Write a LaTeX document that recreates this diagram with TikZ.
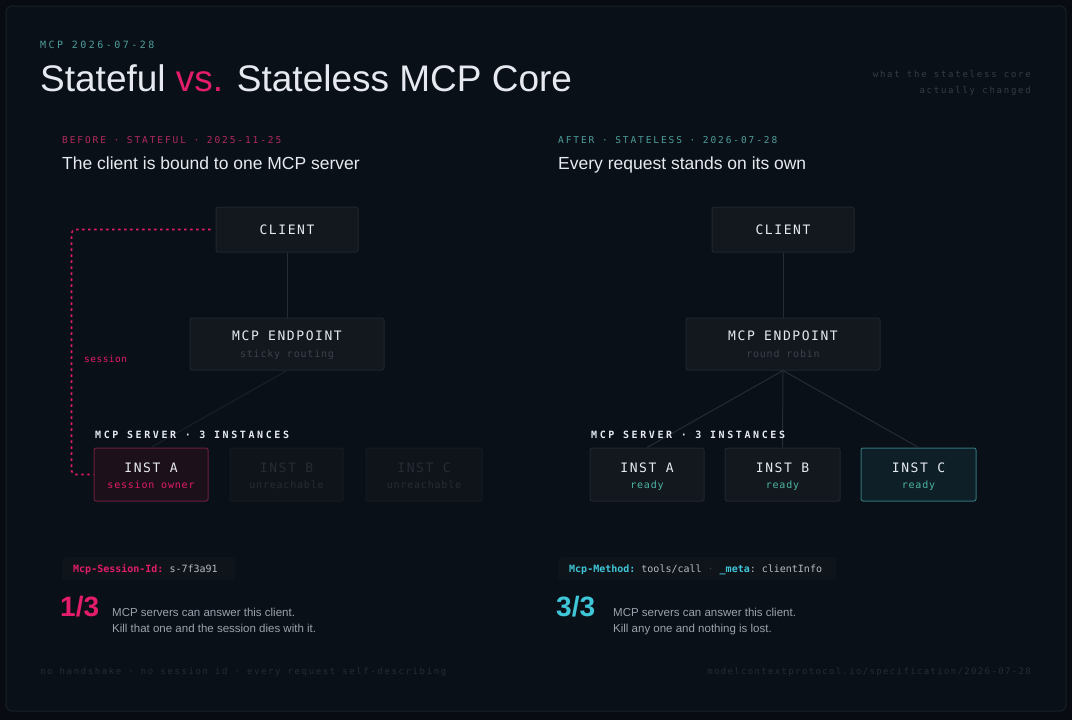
\documentclass[tikz,border=0pt]{standalone}
\usepackage{fontspec}
\setmainfont{Liberation Sans}
\newfontfamily\monofam{DejaVu Sans Mono}
\newfontfamily\dispfam{Liberation Sans}
\newcommand\mfont[2]{\monofam\addfontfeatures{LetterSpace=#2}\fontsize{#1}{#1}\selectfont}
\newcommand\sfont[1]{\dispfam\fontsize{#1}{#1}\selectfont}
\definecolor{outer}{HTML}{080C12}
\definecolor{bg}{HTML}{0A1017}
\definecolor{frame}{HTML}{182029}
\definecolor{card}{HTML}{13181F}
\definecolor{cardline}{HTML}{20262E}
\definecolor{hot}{HTML}{E31C6B}
\definecolor{hotdim}{HTML}{B02A5E}
\definecolor{teal}{HTML}{4E9D9B}
\definecolor{cyan}{HTML}{3FC6D8}
\definecolor{ready}{HTML}{4DB5A3}
\definecolor{ink}{HTML}{E6EAF0}
\definecolor{body}{HTML}{9AA3AD}
\definecolor{code}{HTML}{B4BBC4}
\definecolor{sub}{HTML}{3A424C}
\definecolor{ghost}{HTML}{262C34}
\definecolor{ghostfill}{HTML}{0F141A}
\definecolor{ghostline}{HTML}{161B22}
\definecolor{wire}{HTML}{252C35}
\definecolor{wirefaint}{HTML}{1A2028}
\definecolor{note}{HTML}{343C47}
\definecolor{foot}{HTML}{252C36}
\definecolor{pillfill}{HTML}{0F141B}
\definecolor{ownerfill}{HTML}{1C111A}
\definecolor{ownerline}{HTML}{6A1E3D}
\definecolor{cfill}{HTML}{0E1F28}
\definecolor{cline}{HTML}{317379}
\tikzset{
  txt/.style={inner sep=0pt, anchor=base west},
  ctxt/.style={inner sep=0pt, anchor=base},
  rtxt/.style={inner sep=0pt, anchor=base east},
  cardbox/.style={draw=cardline, fill=card, line width=1pt, rounded corners=2pt, inner sep=0pt},
  ghostbox/.style={draw=ghostline, fill=ghostfill, line width=1pt, rounded corners=2pt, inner sep=0pt},
  ownerbox/.style={draw=ownerline, fill=ownerfill, line width=1pt, rounded corners=2pt, inner sep=0pt},
  hotbox/.style={draw=cline, fill=cfill, line width=1pt, rounded corners=2pt, inner sep=0pt},
  pillbox/.style={fill=pillfill, rounded corners=3pt, inner sep=0pt, anchor=north west},
  wireline/.style={draw=wire, line width=1pt},
  wirefaintline/.style={draw=wirefaint, line width=1pt},
  sessline/.style={draw=hot, line width=1.6pt, dash pattern=on 2.4pt off 3.6pt, rounded corners=4pt},
  boxlabel/.style={ctxt, font=\mfont{13}{12}, text=ink},
  boxsub/.style={ctxt, font=\mfont{10}{8}},
  srvlabel/.style={txt, font=\mfont{10}{26}\bfseries, text=ink},
}
\begin{document}
\begin{tikzpicture}[x=1pt,y=-1pt]
\fill[outer] (0,0) rectangle (1072,720);
\filldraw[fill=bg, draw=frame, line width=1pt, rounded corners=6pt] (6,6) rectangle (1066,711);

% header
\node[txt, font=\mfont{10}{25}, text=teal] (kicker) at (40,48) {MCP 2026-07-28};
\node[txt, font=\sfont{37}, text=ink] (title) at (40,91) {Stateful \textcolor{hot}{vs.} Stateless MCP Core};
\node[rtxt, font=\mfont{9}{19.5}, text=note] (note1) at (1031,77) {what the stateless core};
\node[rtxt, font=\mfont{9}{19.5}, text=note] (note2) at (1031,93) {actually changed};

% left column heading
\node[txt, font=\mfont{9.5}{20}, text=hotdim] (lhead) at (62,143) {BEFORE · STATEFUL · 2025-11-25};
\node[txt, font=\sfont{17.5}, text=ink] (lsub) at (62,169) {The client is bound to one MCP server};
% right column heading
\node[txt, font=\mfont{9.5}{20}, text=teal] (rhead) at (558,143) {AFTER · STATELESS · 2026-07-28};
\node[txt, font=\sfont{17.5}, text=ink] (rsub) at (558,169) {Every request stands on its own};

% ---------- left diagram ----------
\node[cardbox, minimum width=142pt, minimum height=45pt] (lclient) at (287,229.5) {};
\node[boxlabel] at (287,234.5) {CLIENT};
\node[cardbox, minimum width=194pt, minimum height=52pt] (lep) at (287,344) {};
\node[boxlabel] at (287,340) {MCP ENDPOINT};
\node[boxsub, text=sub] at (287,357.5) {sticky routing};

\node[ownerbox, minimum width=114pt, minimum height=53pt] (lA) at (151,474.5) {};
\node[boxlabel] at (151,472) {INST A};
\node[boxsub, text=hot] at (151,488.5) {session owner};
\node[ghostbox, minimum width=113pt, minimum height=53pt] (lB) at (286.5,474.5) {};
\node[boxlabel, text=ghost] at (286.5,472) {INST B};
\node[boxsub, text=ghost] at (286.5,488.5) {unreachable};
\node[ghostbox, minimum width=116pt, minimum height=53pt] (lC) at (424,474.5) {};
\node[boxlabel, text=ghost] at (424,472) {INST C};
\node[boxsub, text=ghost] at (424,488.5) {unreachable};

\draw[wireline] (lclient.south) -- (lep.north);
\draw[wirefaintline] (lep.south) -- (lA.north);
\node[srvlabel] (lsrv) at (95,438) {MCP SERVER · 3 INSTANCES};
\coordinate (sesscorner) at (71.5,229.5);
\draw[sessline] ([xshift=-5pt]lclient.west) -- (sesscorner) |- (lA.west);
\node[txt, font=\mfont{9.5}{5}, text=hot] (sesslbl) at (84,362) {session};

% ---------- right diagram ----------
\node[cardbox, minimum width=142pt, minimum height=45pt] (rclient) at (783,229.5) {};
\node[boxlabel] at (783,234.5) {CLIENT};
\node[cardbox, minimum width=194pt, minimum height=52pt] (rep) at (783,344) {};
\node[boxlabel] at (783,340) {MCP ENDPOINT};
\node[boxsub, text=sub] at (783,357.5) {round robin};
\draw[wireline] (rclient.south) -- (rep.north);

\node[cardbox, minimum width=114pt, minimum height=53pt] (rA) at (647,474.5) {};
\node[boxlabel] at (647,472) {INST A};
\node[boxsub, text=ready] at (647,488.5) {ready};
\node[cardbox, minimum width=115pt, minimum height=53pt] (rB) at (782.5,474.5) {};
\node[boxlabel] at (782.5,472) {INST B};
\node[boxsub, text=ready] at (782.5,488.5) {ready};
\node[hotbox, minimum width=115pt, minimum height=53pt] (rC) at (918.5,474.5) {};
\node[boxlabel] at (918.5,472) {INST C};
\node[boxsub, text=ready] at (918.5,488.5) {ready};

\draw[wireline] (rep.south) -- (rA.north);
\draw[wireline] (rep.south) -- (rB.north);
\draw[wireline] (rep.south) -- (rC.north);
\node[srvlabel] (rsrv) at (591,438) {MCP SERVER · 3 INSTANCES};

% ---------- bottom left ----------
\node[pillbox, minimum width=173pt, minimum height=23pt] (lpill) at (62,557) {};
\node[txt, font=\mfont{10}{0}, text=code] (lcode) at (73,572) {{\color{hot}\bfseries Mcp-Session-Id:}\ s-7f3a91};
\node[txt, font=\sfont{28}\bfseries, text=hot] (lfrac) at (60,616) {1/3};
\node[txt, font=\sfont{11.5}, text=body] (lb1) at (112,616) {MCP servers can answer this client.};
\node[txt, font=\sfont{11.5}, text=body] (lb2) at (112,632) {Kill that one and the session dies with it.};

% ---------- bottom right ----------
\node[pillbox, minimum width=278pt, minimum height=23pt] (rpill) at (558,557) {};
\node[txt, font=\mfont{10}{0}, text=code] (rcode) at (569,572) {{\color{cyan}\bfseries Mcp-Method:}\ tools/call\ {\color{sub}·}\ {\color{cyan}\bfseries \_meta}:\ clientInfo};
\node[txt, font=\sfont{28}\bfseries, text=cyan] (rfrac) at (556,616) {3/3};
\node[txt, font=\sfont{11.5}, text=body] (rb1) at (613,616) {MCP servers can answer this client.};
\node[txt, font=\sfont{11.5}, text=body] (rb2) at (613,632) {Kill any one and nothing is lost.};

% ---------- footer ----------
\node[txt, font=\mfont{9}{18}, text=foot] (footl) at (40,674) {no handshake · no session id · every request self-describing};
\node[rtxt, font=\mfont{9}{15}, text=foot] (footr) at (1031,674) {modelcontextprotocol.io/specification/2026-07-28};
\end{tikzpicture}
\end{document}
